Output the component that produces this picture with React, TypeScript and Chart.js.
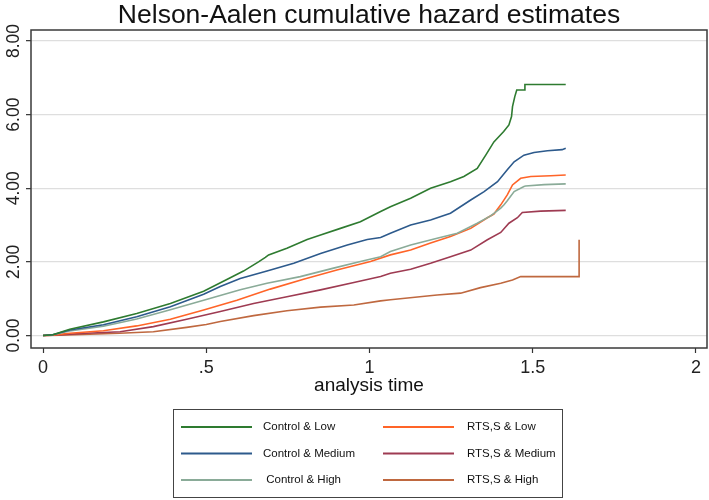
import React, { useEffect, useRef } from "react";
import { Chart, registerables } from "chart.js";

Chart.register(...registerables);

const TITLE = "Nelson-Aalen cumulative hazard estimates";
const X_TITLE = "analysis time";
const X_TICKS = [0, 0.5, 1, 1.5, 2];
const X_TICK_LABELS = ["0", ".5", "1", "1.5", "2"];
const Y_TICKS = [0, 2, 4, 6, 8];
const Y_TICK_LABELS = ["0.00", "2.00", "4.00", "6.00", "8.00"];

const SERIES_NAMES = [
  "Control & Low",
  "Control & Medium",
  " Control & High",
  "RTS,S & Low",
  "RTS,S & Medium",
  "RTS,S & High",
];
const SERIES_COLORS = ["#2e7b30", "#2d5a8c", "#8aab98", "#ff6428", "#9e3b52", "#bf683f"];

const ctrlLowT = [0, 0.03, 0.082, 0.185, 0.287, 0.39, 0.492, 0.563, 0.614, 0.66, 0.681, 0.691, 0.747, 0.809, 0.85, 0.911, 0.972, 1.034, 1.064, 1.126, 1.187, 1.248, 1.289, 1.33, 1.356, 1.381, 1.411, 1.427, 1.435, 1.438, 1.445, 1.451, 1.476, 1.476, 1.601];
const ctrlLowV = [0, 0.02, 0.17, 0.37, 0.6, 0.87, 1.2, 1.52, 1.75, 2.0, 2.12, 2.19, 2.37, 2.61, 2.73, 2.91, 3.09, 3.37, 3.5, 3.73, 4.0, 4.18, 4.32, 4.54, 4.9, 5.26, 5.54, 5.72, 5.95, 6.22, 6.49, 6.67, 6.67, 6.82, 6.82];

const ctrlMedT = [0, 0.03, 0.082, 0.185, 0.287, 0.39, 0.492, 0.543, 0.604, 0.686, 0.768, 0.85, 0.932, 0.993, 1.034, 1.064, 1.126, 1.187, 1.248, 1.31, 1.351, 1.392, 1.422, 1.443, 1.473, 1.504, 1.545, 1.59, 1.601];
const ctrlMedV = [0, 0.02, 0.15, 0.29, 0.51, 0.78, 1.12, 1.33, 1.55, 1.75, 1.96, 2.23, 2.46, 2.61, 2.66, 2.78, 3.0, 3.14, 3.32, 3.68, 3.91, 4.18, 4.5, 4.72, 4.9, 4.97, 5.02, 5.05, 5.09];

const ctrlHighT = [0, 0.03, 0.082, 0.185, 0.287, 0.39, 0.5, 0.604, 0.686, 0.788, 0.89, 0.972, 1.034, 1.064, 1.126, 1.207, 1.269, 1.33, 1.371, 1.402, 1.412, 1.422, 1.443, 1.473, 1.478, 1.535, 1.601];
const ctrlHighV = [0, 0.02, 0.12, 0.25, 0.45, 0.7, 0.98, 1.24, 1.42, 1.6, 1.83, 2.01, 2.14, 2.28, 2.46, 2.64, 2.78, 3.05, 3.25, 3.46, 3.55, 3.66, 3.91, 4.05, 4.06, 4.1, 4.12];

const rtsLowT = [0, 0.03, 0.082, 0.185, 0.287, 0.39, 0.492, 0.594, 0.696, 0.798, 0.9, 1.003, 1.064, 1.126, 1.187, 1.248, 1.31, 1.361, 1.381, 1.402, 1.422, 1.438, 1.463, 1.494, 1.555, 1.601];
const rtsLowV = [0, 0.01, 0.06, 0.13, 0.26, 0.44, 0.69, 0.96, 1.26, 1.53, 1.78, 2.01, 2.19, 2.32, 2.51, 2.69, 2.91, 3.2, 3.3, 3.55, 3.82, 4.09, 4.27, 4.32, 4.34, 4.36];

const rtsMedT = [0, 0.03, 0.134, 0.236, 0.338, 0.44, 0.543, 0.645, 0.747, 0.85, 0.952, 1.034, 1.064, 1.126, 1.187, 1.248, 1.31, 1.361, 1.402, 1.427, 1.453, 1.468, 1.524, 1.601];
const rtsMedV = [0, 0.01, 0.06, 0.1, 0.24, 0.44, 0.65, 0.87, 1.05, 1.24, 1.44, 1.6, 1.69, 1.8, 1.96, 2.14, 2.32, 2.6, 2.8, 3.05, 3.2, 3.34, 3.38, 3.4];

const rtsHighT = [0, 0.05, 0.235, 0.338, 0.44, 0.5, 0.543, 0.645, 0.747, 0.85, 0.952, 1.034, 1.064, 1.207, 1.279, 1.34, 1.402, 1.438, 1.463, 1.642, 1.642];
const rtsHighV = [0, 0.01, 0.06, 0.1, 0.22, 0.3, 0.38, 0.54, 0.67, 0.77, 0.83, 0.94, 0.97, 1.1, 1.15, 1.3, 1.42, 1.51, 1.6, 1.6, 2.6];

const SERIES_T = [ctrlLowT, ctrlMedT, ctrlHighT, rtsLowT, rtsMedT, rtsHighT];
const SERIES_V = [ctrlLowV, ctrlMedV, ctrlHighV, rtsLowV, rtsMedV, rtsHighV];

const FONT = "'Liberation Sans', Arial, sans-serif";

const decorPlugin = {
  id: "decor",
  afterDatasetsDraw(chart: any) {
    const { ctx, chartArea } = chart;
    const { left, right, top, bottom } = chartArea;
    ctx.save();
    // frame
    ctx.strokeStyle = "#3a3a3a";
    ctx.lineWidth = 1.5;
    ctx.strokeRect(left, top, right - left, bottom - top);
    // title
    ctx.fillStyle = "#111";
    ctx.font = `26.5px ${FONT}`;
    ctx.textAlign = "center";
    ctx.textBaseline = "middle";
    ctx.fillText(TITLE, (left + right) / 2, 16);
    // y tick labels (rotated)
    const ys = chart.scales.y;
    ctx.font = `17.5px ${FONT}`;
    ctx.fillStyle = "#222";
    Y_TICKS.forEach((v, i) => {
      const py = ys.getPixelForValue(v);
      ctx.save();
      ctx.translate(14, py);
      ctx.rotate(-Math.PI / 2);
      ctx.textAlign = "center";
      ctx.textBaseline = "middle";
      ctx.fillText(Y_TICK_LABELS[i], 0, 0);
      ctx.restore();
    });
    // legend
    ctx.strokeStyle = "#444";
    ctx.lineWidth = 1;
    ctx.strokeRect(173.5, 409.5, 389, 88);
    const rows = [427, 453.5, 480];
    const cols = [
      { x1: 181, x2: 252, tx: 263 },
      { x1: 383, x2: 454, tx: 467 },
    ];
    ctx.font = `11.5px ${FONT}`;
    ctx.textAlign = "left";
    ctx.textBaseline = "middle";
    chart.data.datasets.forEach((ds: any, i: number) => {
      const c = cols[Math.floor(i / 3)];
      const y = rows[i % 3];
      ctx.strokeStyle = ds.borderColor;
      ctx.lineWidth = 2;
      ctx.beginPath();
      ctx.moveTo(c.x1, y);
      ctx.lineTo(c.x2, y);
      ctx.stroke();
      ctx.fillStyle = "#111";
      ctx.fillText(ds.label, c.tx, y);
    });
    ctx.restore();
  },
};

export default function App() {
  const ref = useRef<HTMLCanvasElement | null>(null);
  useEffect(() => {
    if (!ref.current) return;
    const chart = new Chart(ref.current, {
      type: "line",
      data: {
        datasets: SERIES_NAMES.map((name, i) => ({
          label: name,
          data: SERIES_T[i].map((t, j) => ({ x: t, y: SERIES_V[i][j] })),
          borderColor: SERIES_COLORS[i],
          backgroundColor: SERIES_COLORS[i],
          borderWidth: 1.6,
          pointRadius: 0,
          tension: 0,
          fill: false,
        })),
      },
      options: {
        responsive: false,
        animation: false,
        devicePixelRatio: 1,
        layout: { padding: { left: 0, right: 2, top: 30, bottom: 102 } },
        plugins: {
          legend: { display: false },
          title: { display: false },
          tooltip: { enabled: false },
        },
        scales: {
          x: {
            type: "linear",
            min: -0.0368,
            max: 2.0337,
            afterBuildTicks: (s: any) => {
              s.ticks = X_TICKS.map((v) => ({ value: v }));
            },
            afterFit: (s: any) => {
              s.height = 50;
            },
            border: { display: false },
            grid: {
              drawOnChartArea: false,
              drawTicks: true,
              tickLength: 5,
              tickColor: "#333",
              tickWidth: 1.2,
            },
            ticks: {
              padding: 4,
              color: "#222",
              font: { family: FONT, size: 18 },
              maxRotation: 0,
              minRotation: 0,
              callback: (v: any) => {
                const idx = X_TICKS.indexOf(Number(v));
                return idx >= 0 ? X_TICK_LABELS[idx] : "";
              },
            },
            title: {
              display: true,
              text: X_TITLE,
              color: "#111",
              font: { family: FONT, size: 19, lineHeight: 1.2 },
              padding: { top: 0, bottom: 0.6 },
            },
          },
          y: {
            type: "linear",
            min: -0.34,
            max: 8.3,
            afterBuildTicks: (s: any) => {
              s.ticks = Y_TICKS.map((v) => ({ value: v }));
            },
            afterFit: (s: any) => {
              s.width = 31;
            },
            border: { display: false },
            grid: {
              color: "#dedede",
              lineWidth: 1.3,
              drawTicks: true,
              tickLength: 5,
              tickColor: "#333",
              tickWidth: 1.2,
            },
            ticks: { display: false },
          },
        },
      },
      plugins: [decorPlugin],
    });
    return () => chart.destroy();
  }, []);
  return (
    <div style={{ position: "fixed", left: 0, top: 0, width: 709, height: 500, background: "#fff" }}>
      <canvas ref={ref} width={709} height={500} style={{ width: 709, height: 500 }} />
    </div>
  );
}
